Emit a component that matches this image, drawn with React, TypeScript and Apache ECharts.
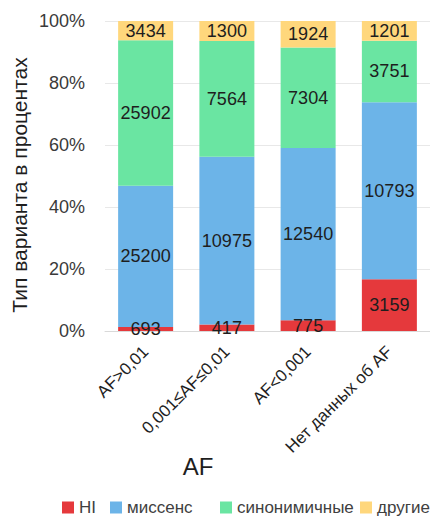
import React, { useEffect, useRef } from "react";
import * as echarts from "echarts";

// Variant counts per allele-frequency group
const categories = ["AF>0,01", "0,001≤AF≤0,01", "AF<0,001", "Нет данных об AF"];
const hiCounts = [693, 417, 775, 3159];
const missenseCounts = [25200, 10975, 12540, 10793];
const synonymousCounts = [25902, 7564, 7304, 3751];
const otherCounts = [3434, 1300, 1924, 1201];

const seriesNames = ["HI", "миссенс", "синонимичные", "другие"];
const seriesColors = ["#E5393C", "#6CB4E8", "#6AE5A2", "#FFD77C"];
const yTicks = [0, 20, 40, 60, 80, 100];

const FONT = "'Liberation Sans', Arial, sans-serif";

export default function App() {
  const ref = useRef<HTMLDivElement>(null);

  useEffect(() => {
    if (!ref.current) return;
    const chart = echarts.init(ref.current, undefined, { renderer: "svg" });

    const countSets = [hiCounts, missenseCounts, synonymousCounts, otherCounts];
    const totals = categories.map((_, i) =>
      countSets.reduce((s, arr) => s + arr[i], 0)
    );

    const series = countSets.map((counts, si) => ({
      name: seriesNames[si],
      type: "bar",
      stack: "total",
      barWidth: 55,
      itemStyle: { color: seriesColors[si] },
      data: counts.map((v, i) => (v / totals[i]) * 100),
      label: {
        show: true,
        position: "inside",
        color: "#1e1e1e",
        fontFamily: FONT,
        fontSize: 18,
        formatter: (p: any) => String(counts[p.dataIndex]),
      },
    }));

    const legendLefts = [62, 110, 220, 360];
    const legend = seriesNames.map((n, i) => ({
      data: [n],
      left: legendLefts[i],
      top: 499,
      icon: "rect",
      itemWidth: 12,
      itemHeight: 12,
      padding: 0,
      textStyle: { fontFamily: FONT, fontSize: 17, color: "#404040" },
    }));

    chart.setOption({
      animation: false,
      backgroundColor: "#ffffff",
      grid: { left: 105, right: -2, top: 21, bottom: 186 },
      legend,
      xAxis: {
        type: "category",
        data: categories,
        axisTick: { show: false },
        axisLine: { lineStyle: { color: "#D9D9D9", width: 1 } },
        axisLabel: {
          rotate: 45,
          margin: 18,
          interval: 0,
          fontFamily: FONT,
          fontSize: 17,
          color: "#1e1e1e",
        },
      },
      yAxis: {
        type: "value",
        min: yTicks[0],
        max: yTicks[yTicks.length - 1],
        interval: 20,
        axisLine: { show: false },
        axisTick: { show: false },
        splitLine: { lineStyle: { color: "#E8E8E8", width: 1 } },
        axisLabel: {
          margin: 20,
          fontFamily: FONT,
          fontSize: 18,
          color: "#3a3a3a",
          formatter: "{value}%",
        },
      },
      graphic: [
        {
          type: "text",
          x: 19,
          y: 185,
          rotation: Math.PI / 2,
          style: {
            text: "Тип варианта в процентах",
            fontFamily: FONT,
            fontSize: 21,
            fill: "#1e1e1e",
            align: "center",
            verticalAlign: "middle",
          },
        },
        {
          type: "text",
          x: 198,
          y: 466,
          style: {
            text: "AF",
            fontFamily: FONT,
            fontSize: 24,
            fill: "#1e1e1e",
            align: "center",
            verticalAlign: "middle",
          },
        },
      ],
      series,
    });

    return () => chart.dispose();
  }, []);

  return (
    <div
      ref={ref}
      style={{ position: "fixed", left: 0, top: 0, width: 430, height: 517, background: "#fff" }}
    />
  );
}
